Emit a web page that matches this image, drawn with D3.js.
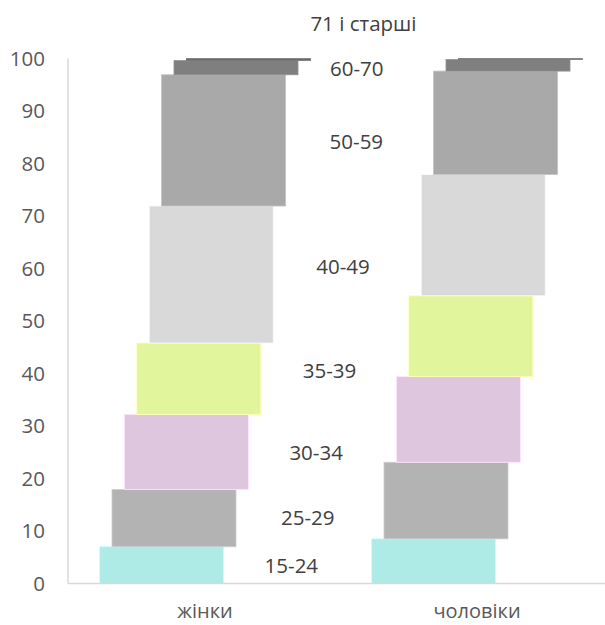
<!DOCTYPE html>
<html>
<head>
<meta charset="utf-8">
<script src="https://cdn.jsdelivr.net/npm/d3@7"></script>
<style>
  body { margin: 0; background: #fff; }
  text { font-family: "Open Sans", sans-serif; }
</style>
</head>
<body>
<div id="chart"></div>
<script>
// categories and age groups
const categories = ["жінки", "чоловіки"];
const ageGroups = ["15-24", "25-29", "30-34", "35-39", "40-49", "50-59", "60-70", "71 і старші"];

// shares per age group, percent
const women = [7.0, 10.9, 14.3, 13.6, 26.1, 25.0, 2.7, 0.4];
const men = [8.5, 14.6, 16.3, 15.4, 23.1, 19.7, 2.2, 0.2];

const yTicks = [0, 10, 20, 30, 40, 50, 60, 70, 80, 90, 100];

const colors = ["#aeeae6", "#b3b3b3", "#ddc6de", "#e1f59d", "#d9d9d9", "#a9a9a9", "#7f7f7f", "#6a6a6a"];

// label nudges next to the women bars (layout only)
const labelDx = [41, 45, 41, 42, 43, 44, 32, 0];
const labelDy = [1, 0, 1, -8, -8, 1, 1, 0];

const W = 605, H = 625;
const svg = d3.select("#chart").append("svg").attr("width", W).attr("height", H);

const x = d3.scaleBand().domain(categories).range([69, 613]);
const off = d3.scaleBand().domain(ageGroups).range([-49.6, 49.6]);
const y = d3.scaleLinear().domain([0, 100]).range([583.5, 58.5]);
const barW = 124;

// stack the values
function stackOf(vals, cat) {
  let acc = 0;
  return vals.map((v, i) => {
    let d = { cat: cat, group: ageGroups[i], i: i, y0: acc, y1: acc + v };
    acc += v;
    return d;
  });
}
const segs = stackOf(women, categories[0]).concat(stackOf(men, categories[1]));

function barX(d) {
  return x(d.cat) + x.bandwidth() / 2 + off(d.group) + off.bandwidth() / 2 - barW / 2;
}

// axis lines
svg.append("line")
  .attr("x1", 68).attr("x2", 68)
  .attr("y1", y(100)).attr("y2", y(0))
  .attr("stroke", "#d9d9d9").attr("stroke-width", 1.5);

// bars
svg.append("g")
  .selectAll("rect")
  .data(segs)
  .join("rect")
  .attr("x", barX)
  .attr("width", barW)
  .attr("y", (d) => y(d.y1))
  .attr("height", (d) => Math.max(y(d.y0) - y(d.y1), 0.8))
  .attr("fill", (d) => colors[d.i])
  .attr("stroke", (d) => d3.color(colors[d.i]).brighter(0.4))
  .attr("stroke-width", 0.8);

svg.append("line")
  .attr("x1", 68).attr("x2", W)
  .attr("y1", y(0)).attr("y2", y(0))
  .attr("stroke", "#d9d9d9").attr("stroke-width", 1.5);

// y axis
const yAxis = d3.axisLeft(y).tickValues(yTicks).tickSize(0).tickPadding(23);
const gy = svg.append("g").attr("transform", "translate(68,0)").call(yAxis);
gy.select(".domain").remove();
gy.selectAll("text")
  .style("font-family", "'Open Sans', sans-serif")
  .style("font-size", "20.5px")
  .attr("fill", "#595959");

// category labels
svg.append("g")
  .selectAll("text")
  .data(categories)
  .join("text")
  .attr("x", (d) => x(d) + x.bandwidth() / 2)
  .attr("y", 618)
  .attr("text-anchor", "middle")
  .attr("font-size", 20)
  .attr("fill", "#595959")
  .text((d) => d);

// age group labels beside the women bars
svg.append("g")
  .selectAll("text")
  .data(segs.filter((d) => d.cat === categories[0]))
  .join("text")
  .attr("x", (d) => barX(d) + barW + labelDx[d.i])
  .attr("y", (d) => (d.i === ageGroups.length - 1 ? y(100) - 35 : y((d.y0 + d.y1) / 2)) + labelDy[d.i])
  .attr("dy", "0.35em")
  .attr("font-size", 20.5)
  .attr("fill", "#404040")
  .text((d) => d.group);
</script>
</body>
</html>
